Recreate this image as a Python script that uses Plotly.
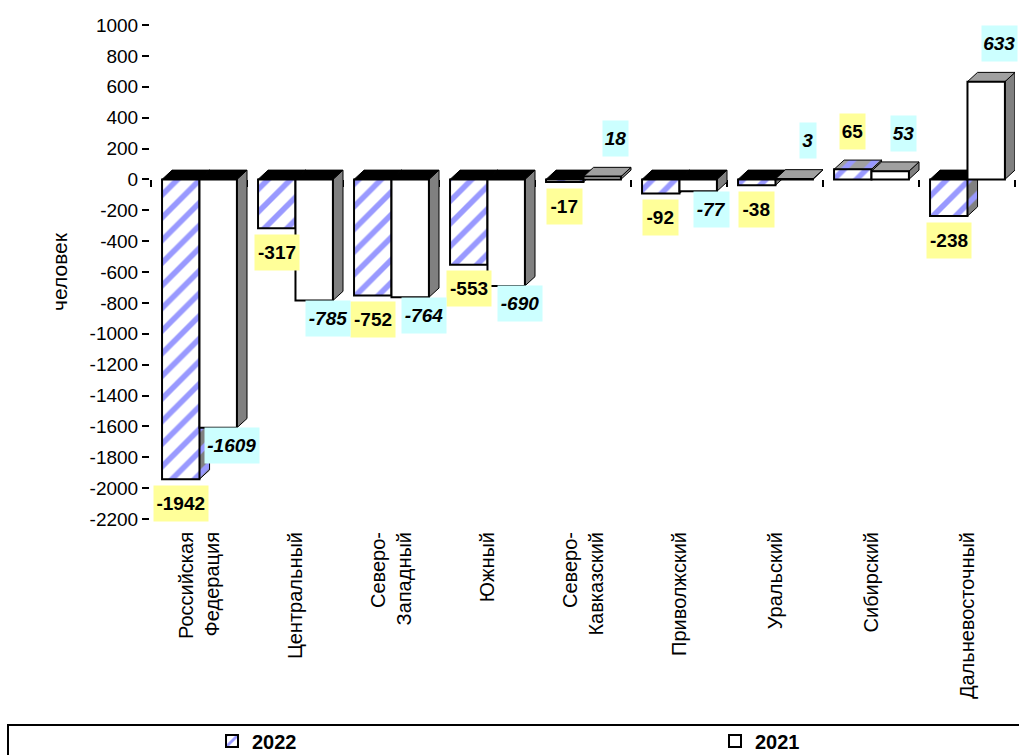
import numpy as np
import plotly.graph_objects as go

# ---------------- data ----------------
categories = ["Российская<br>Федерация", "Центральный", "Северо-<br>Западный", "Южный",
              "Северо-<br>Кавказский", "Приволжский", "Уральский", "Сибирский",
              "Дальневосточный"]
v2022 = [-1942, -317, -752, -553, -17, -92, -38, 65, -238]
v2021 = [-1609, -785, -764, -690, 18, -77, 3, 53, 633]
y_ticks = list(range(-2200, 1001, 200))
y_ticktext = [str(t) for t in y_ticks]

# ---------------- style ----------------
FONT = "Arial, Liberation Sans, sans-serif"
BAR_W = 0.39
DX = 0.105       # depth in x units
DY = 60          # depth in y units
OFF22, OFF21 = -0.19, 0.20

idx = np.arange(len(categories))
c22 = idx + OFF22
c21 = idx + OFF21

STRIPE = dict(shape="/", fgcolor="#9999ff", size=16, solidity=0.35)

# plot-area geometry in page pixels
PL, PR, PT, PB = 151, 1015, 25, 519
PW, PH = PR - PL, PB - PT


def px_x(p):
    return (p - PL) / PW


def px_y(p):
    return (PB - p) / PH


def faces(centers, vals):
    side_x, side_y = [], []
    tn_x, tn_y, tp_x, tp_y = [], [], [], []
    for c, v in zip(centers, vals):
        x0, x1 = c - BAR_W / 2, c + BAR_W / 2
        side_x += [x1, x1 + DX, x1 + DX, x1, x1, None]
        side_y += [0, DY, v + DY, v, 0, None]
        t = max(v, 0)
        tx = [x0, x1, x1 + DX, x0 + DX, x0, None]
        ty = [t, t, t + DY, t + DY, t, None]
        if v < 0:
            tn_x += tx; tn_y += ty
        else:
            tp_x += tx; tp_y += ty
    return (side_x, side_y), (tn_x, tn_y), (tp_x, tp_y)


fig = go.Figure()


def poly(xy, zorder, fillcolor, pattern=None):
    kw = dict(x=xy[0], y=xy[1], mode="lines", fill="toself",
              line=dict(color="black", width=1), hoverinfo="skip",
              showlegend=False, zorder=zorder, fillcolor=fillcolor)
    if pattern is not None:
        kw["fillpattern"] = pattern
    return go.Scatter(**kw)


s22, tn22, tp22 = faces(c22, v2022)
s21, tn21, tp21 = faces(c21, v2021)

fig.add_trace(poly(s22, 1, "#808080", dict(STRIPE, bgcolor="#808080", fillmode="replace")))
fig.add_trace(poly(tn22, 1, "black"))
fig.add_trace(poly(tp22, 1, "#a0a0a0", dict(STRIPE, bgcolor="#a0a0a0", fillmode="replace")))

fig.add_trace(go.Bar(
    x=c22, y=v2022, width=BAR_W, name="2022", zorder=2, legend="legend",
    marker=dict(color="white", line=dict(color="black", width=2),
                pattern=dict(STRIPE, bgcolor="white", fillmode="replace")),
    hoverinfo="skip"))

fig.add_trace(poly(s21, 3, "#808080"))
fig.add_trace(poly(tn21, 3, "black"))
fig.add_trace(poly(tp21, 3, "#a0a0a0"))

fig.add_trace(go.Bar(
    x=c21, y=v2021, width=BAR_W, name="2021", zorder=4, legend="legend2",
    marker=dict(color="white", line=dict(color="black", width=2)),
    hoverinfo="skip"))

# dummy trace for the zero-line axis
fig.add_trace(go.Scatter(x=[None], y=[None], xaxis="x2", showlegend=False, hoverinfo="skip"))

# ---------------- data labels ----------------
ann = []
for c, v in zip(c22, v2022):
    txt = str(v)
    ann.append(dict(x=c, y=v, xref="x", yref="y", text=f"<b>{txt}</b>", showarrow=False,
                    yshift=38 if v > 0 else -24, bgcolor="#ffff99",
                    width=9.5 * len(txt) + 6, height=35, borderpad=0,
                    font=dict(family=FONT, size=19, color="black")))
for c, v in zip(c21, v2021):
    txt = str(v)
    ann.append(dict(x=c + 0.14, y=v, xref="x", yref="y", text=f"<b><i>{txt}</i></b>", showarrow=False,
                    yshift=38 if v > 0 else -18, bgcolor="#ccffff",
                    width=9.5 * len(txt) + 6, height=35, borderpad=0,
                    font=dict(family=FONT, size=19, color="black")))

legend_common = dict(orientation="h", xanchor="left", yanchor="middle", y=px_y(741),
                     font=dict(size=20, family=FONT, weight="bold"),
                     bgcolor="rgba(0,0,0,0)", borderwidth=0)

fig.update_layout(
    width=1019, height=755,
    margin=dict(l=PL, r=1019 - PR, t=PT, b=755 - PB, autoexpand=False),
    paper_bgcolor="white", plot_bgcolor="white",
    barmode="overlay",
    font=dict(family=FONT, color="black"),
    annotations=ann,
    xaxis=dict(range=[-0.5, 8.5], tickmode="array", tickvals=list(idx), ticktext=categories,
               tickangle=-90, tickfont=dict(size=20, family=FONT), showline=False, ticks="",
               showgrid=False, zeroline=False, ticklabelstandoff=8, automargin=False),
    xaxis2=dict(overlaying="x", matches="x", anchor="free", position=2200 / 3200, side="bottom",
                showline=True, linecolor="black", linewidth=2, ticks="outside", ticklen=7,
                tickwidth=2, tickcolor="black", tickmode="array",
                tickvals=list(np.arange(-0.5, 9, 1.0)), showticklabels=False,
                showgrid=False, zeroline=False, layer="below traces", automargin=False),
    yaxis=dict(range=[-2200, 1000], tickmode="array", tickvals=y_ticks, ticktext=y_ticktext,
               tickfont=dict(size=19, family=FONT), showline=True, linecolor="black", linewidth=2,
               ticks="outside", ticklen=7, tickwidth=2, tickcolor="black",
               showgrid=False, zeroline=False, automargin=False,
               title=dict(text="человек", font=dict(size=21, family=FONT), standoff=16)),
    legend=dict(legend_common, x=px_x(212)),
    legend2=dict(legend_common, x=px_x(715)),
    shapes=[dict(type="rect", xref="paper", yref="paper",
                 x0=px_x(8), x1=px_x(1030), y0=px_y(725), y1=px_y(800),
                 line=dict(color="black", width=2), fillcolor="rgba(0,0,0,0)")],
)

fig.write_html("out.html", config={"displayModeBar": False},
               post_script="document.body.style.margin='0';document.body.style.overflow='hidden';")
